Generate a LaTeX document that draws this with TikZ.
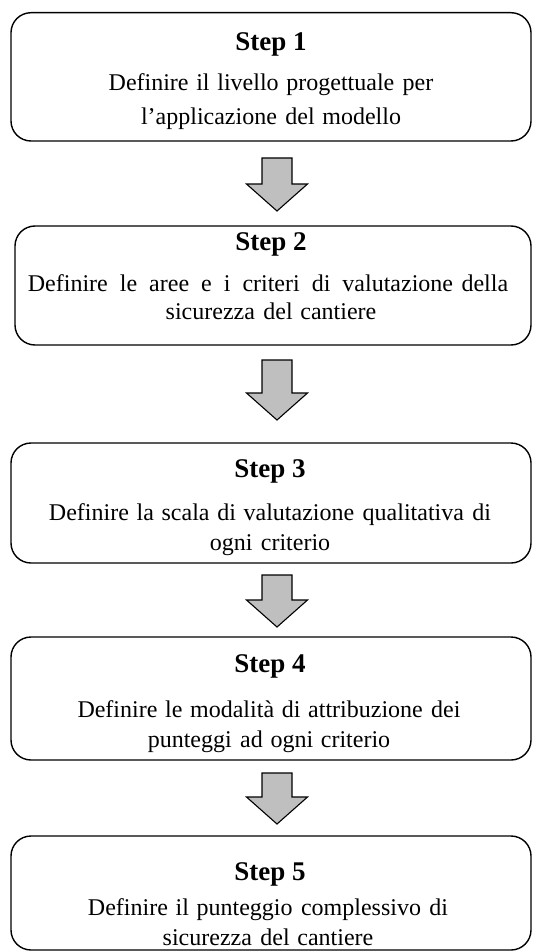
\documentclass[tikz,border=0pt]{standalone}
\usepackage{fontspec}
\setmainfont{Liberation Serif}
\definecolor{arrowgray}{HTML}{BFBFBF}
% slightly wide word spacing, plus an extra gap used between some words
\newcommand\wordgap{\spaceskip=0.32em\relax}
\newcommand\xgap{\hspace{0.35em}}
\begin{document}
\begin{tikzpicture}[x=1pt,y=-1pt,
  stepbox/.style={draw=black, line width=1.4pt, rounded corners=20pt},
  steptitle/.style={font=\fontsize{27}{32}\selectfont\bfseries, anchor=base, inner sep=0pt},
  steptext/.style={font=\fontsize{24}{29}\selectfont, execute at begin node=\wordgap, anchor=base, inner sep=0pt},
  widetext/.style={steptext, execute at begin node={\spaceskip=0.5em\relax}},
  flow/.style={draw=black, line width=1.1pt, fill=arrowgray, line join=miter},
  pics/blockarrow/.style={code={
    \draw[flow] (-15,0) -- (15,0) -- (15,#1-27) -- (30.5,#1-27) -- (0,#1)
      -- (-30.5,#1-27) -- (-15,#1-27) -- cycle;}}
]
\useasboundingbox (0,0) rectangle (533,952);

% step boxes
\draw[stepbox] (11,12.7) rectangle (531,141) coordinate (b1);
\draw[stepbox] (15,226) rectangle (531,345) coordinate (b2);
\draw[stepbox] (11,443) rectangle (531,563) coordinate (b3);
\draw[stepbox] (11,637) rectangle (531,760) coordinate (b4);
\draw[stepbox] (11,836) rectangle (531,950) coordinate (b5);

% step labels
\node[steptitle] (t1) at (271,51) {Step 1};
\node[steptext] (l1a) at (271,91) {Definire il livello progettuale\xgap per};
\node[steptext] (l1b) at (271,125) {l’applicazione\xgap del modello};

\node[steptitle] (t2) at (271,250) {Step 2};
\node[widetext] (l2a) at (268,291) {Definire le aree e i criteri di valutazione\xgap della};
\node[steptext] (l2b) at (271,319) {sicurezza\xgap del cantiere};

\node[steptitle] (t3) at (270,477) {Step 3};
\node[steptext] (l3a) at (270,520) {Definire la scala di valutazione\xgap qualitativa\xgap di};
\node[steptext] (l3b) at (270,550) {ogni\xgap criterio};

\node[steptitle] (t4) at (270,672) {Step 4};
\node[steptext] (l4a) at (269,717) {Definire le modalità di attribuzione\xgap dei};
\node[steptext] (l4b) at (269,747) {punteggi\xgap ad ogni criterio};

\node[steptitle] (t5) at (270,880) {Step 5};
\node[steptext] (l5a) at (268,915) {Definire il punteggio\xgap complessivo\xgap di};
\node[steptext] (l5b) at (268,945) {sicurezza\xgap del cantiere};

% block arrows between the steps
\pic at (277,158) {blockarrow=53};
\pic at (277,360) {blockarrow=60};
\pic at (277,575) {blockarrow=52};
\pic at (277,773) {blockarrow=51};
\end{tikzpicture}
\end{document}
